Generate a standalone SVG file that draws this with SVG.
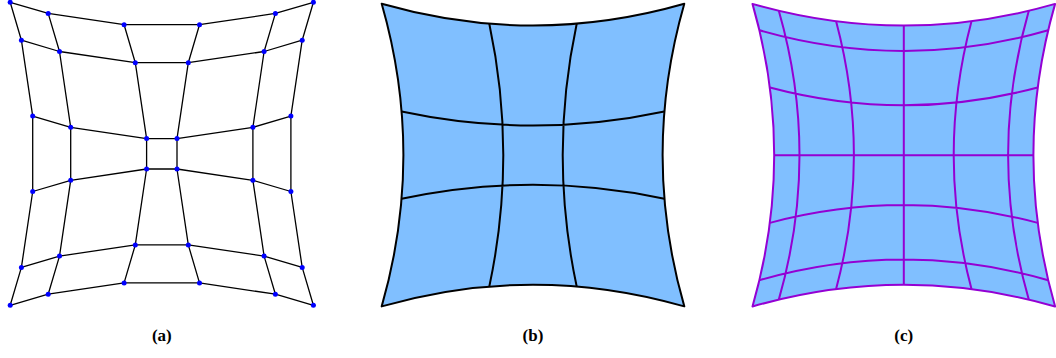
<svg xmlns="http://www.w3.org/2000/svg" xmlns:xlink="http://www.w3.org/1999/xlink" width="1056" height="358" viewBox="0 0 1056 358">
<style>
.mesh{fill:none;stroke:#000;stroke-width:1.3;stroke-linejoin:round}
.dot{fill:#0000ff}
.fillb{fill:#80bfff;stroke:none}
.lb{fill:none;stroke:#000;stroke-width:2;stroke-linejoin:round}
.lc{fill:none;stroke:#9400d3;stroke-width:2;stroke-linejoin:round}
.lbl{font-family:"Liberation Serif","Times New Roman",serif;font-weight:bold;font-size:17px;text-anchor:middle;fill:#000}
</style>
<defs>
<path id="bnd" d="M-151.3,-151.3 Q0,-107.9 151.3,-151.3 Q107.9,0 151.3,151.3 Q0,107.9 -151.3,151.3 Q-107.9,0 -151.3,-151.3Z"/>
</defs>
<g id="panel-a">
<g id="connectors">
<polyline class="mesh" points="10.2,2.3 48.2,13.4 124.1,24.7 199.5,24.7 275.4,13.4 313.4,2.3"/>
<polyline class="mesh" points="21.4,40.2 59.5,51.5 135.3,62.7 188.3,62.7 264.1,51.5 302.2,40.2"/>
<polyline class="mesh" points="32.7,116.1 70.7,127.3 146.6,138.6 177,138.6 252.9,127.3 290.9,116.1"/>
<polyline class="mesh" points="32.7,191.5 70.7,180.3 146.6,169 177,169 252.9,180.3 290.9,191.5"/>
<polyline class="mesh" points="21.4,267.4 59.5,256.1 135.3,244.9 188.3,244.9 264.1,256.1 302.2,267.4"/>
<polyline class="mesh" points="10.2,305.3 48.2,294.2 124.1,282.9 199.5,282.9 275.4,294.2 313.4,305.3"/>
<polyline class="mesh" points="10.2,2.3 21.4,40.2 32.7,116.1 32.7,191.5 21.4,267.4 10.2,305.3"/>
<polyline class="mesh" points="48.2,13.4 59.5,51.5 70.7,127.3 70.7,180.3 59.5,256.1 48.2,294.2"/>
<polyline class="mesh" points="124.1,24.7 135.3,62.7 146.6,138.6 146.6,169 135.3,244.9 124.1,282.9"/>
<polyline class="mesh" points="199.5,24.7 188.3,62.7 177,138.6 177,169 188.3,244.9 199.5,282.9"/>
<polyline class="mesh" points="275.4,13.4 264.1,51.5 252.9,127.3 252.9,180.3 264.1,256.1 275.4,294.2"/>
<polyline class="mesh" points="313.4,2.3 302.2,40.2 290.9,116.1 290.9,191.5 302.2,267.4 313.4,305.3"/>
</g>
<g id="nodes">
<g id="n00"><circle class="dot" cx="10.2" cy="2.3" r="2.5"/></g>
<g id="n01"><circle class="dot" cx="48.2" cy="13.4" r="2.5"/></g>
<g id="n02"><circle class="dot" cx="124.1" cy="24.7" r="2.5"/></g>
<g id="n03"><circle class="dot" cx="199.5" cy="24.7" r="2.5"/></g>
<g id="n04"><circle class="dot" cx="275.4" cy="13.4" r="2.5"/></g>
<g id="n05"><circle class="dot" cx="313.4" cy="2.3" r="2.5"/></g>
<g id="n10"><circle class="dot" cx="21.4" cy="40.2" r="2.5"/></g>
<g id="n11"><circle class="dot" cx="59.5" cy="51.5" r="2.5"/></g>
<g id="n12"><circle class="dot" cx="135.3" cy="62.7" r="2.5"/></g>
<g id="n13"><circle class="dot" cx="188.3" cy="62.7" r="2.5"/></g>
<g id="n14"><circle class="dot" cx="264.1" cy="51.5" r="2.5"/></g>
<g id="n15"><circle class="dot" cx="302.2" cy="40.2" r="2.5"/></g>
<g id="n20"><circle class="dot" cx="32.7" cy="116.1" r="2.5"/></g>
<g id="n21"><circle class="dot" cx="70.7" cy="127.3" r="2.5"/></g>
<g id="n22"><circle class="dot" cx="146.6" cy="138.6" r="2.5"/></g>
<g id="n23"><circle class="dot" cx="177" cy="138.6" r="2.5"/></g>
<g id="n24"><circle class="dot" cx="252.9" cy="127.3" r="2.5"/></g>
<g id="n25"><circle class="dot" cx="290.9" cy="116.1" r="2.5"/></g>
<g id="n30"><circle class="dot" cx="32.7" cy="191.5" r="2.5"/></g>
<g id="n31"><circle class="dot" cx="70.7" cy="180.3" r="2.5"/></g>
<g id="n32"><circle class="dot" cx="146.6" cy="169" r="2.5"/></g>
<g id="n33"><circle class="dot" cx="177" cy="169" r="2.5"/></g>
<g id="n34"><circle class="dot" cx="252.9" cy="180.3" r="2.5"/></g>
<g id="n35"><circle class="dot" cx="290.9" cy="191.5" r="2.5"/></g>
<g id="n40"><circle class="dot" cx="21.4" cy="267.4" r="2.5"/></g>
<g id="n41"><circle class="dot" cx="59.5" cy="256.1" r="2.5"/></g>
<g id="n42"><circle class="dot" cx="135.3" cy="244.9" r="2.5"/></g>
<g id="n43"><circle class="dot" cx="188.3" cy="244.9" r="2.5"/></g>
<g id="n44"><circle class="dot" cx="264.1" cy="256.1" r="2.5"/></g>
<g id="n45"><circle class="dot" cx="302.2" cy="267.4" r="2.5"/></g>
<g id="n50"><circle class="dot" cx="10.2" cy="305.3" r="2.5"/></g>
<g id="n51"><circle class="dot" cx="48.2" cy="294.2" r="2.5"/></g>
<g id="n52"><circle class="dot" cx="124.1" cy="282.9" r="2.5"/></g>
<g id="n53"><circle class="dot" cx="199.5" cy="282.9" r="2.5"/></g>
<g id="n54"><circle class="dot" cx="275.4" cy="294.2" r="2.5"/></g>
<g id="n55"><circle class="dot" cx="313.4" cy="305.3" r="2.5"/></g>
</g>
<text class="lbl" x="161.8" y="341">(a)</text>
</g>
<g id="panel-b">
<g transform="translate(533,155.1)">
<use xlink:href="#bnd" class="fillb"/>
<path class="lb" d="M-43.7,-131.4 Q-15.7,0 -43.7,131.4 M43.7,-131.4 Q15.7,0 43.7,131.4 M-131.4,-43.7 Q0,-15.7 131.4,-43.7 M-131.4,43.7 Q0,15.7 131.4,43.7"/>
<use xlink:href="#bnd" class="lb"/>
</g>
<text class="lbl" x="533" y="341">(b)</text>
</g>
<g id="panel-c">
<g transform="translate(903.8,155.2)">
<use xlink:href="#bnd" class="fillb"/>
<path class="lc" d="M-125,-144.4 Q-83.6,0 -125,144.4 M-67.7,-133.9 Q-32.1,0 -67.7,133.9 M0,-129.6 V129.6 M67.7,-133.9 Q32.1,0 67.7,133.9 M125,-144.4 Q83.6,0 125,144.4 M-144.4,-125 Q0,-83.6 144.4,-125 M-133.9,-67.7 Q0,-32.1 133.9,-67.7 M-129.6,0 H129.6 M-133.9,67.7 Q0,32.1 133.9,67.7 M-144.4,125 Q0,83.6 144.4,125"/>
<use xlink:href="#bnd" class="lc"/>
</g>
<text class="lbl" x="903.8" y="341">(c)</text>
</g>
</svg>
